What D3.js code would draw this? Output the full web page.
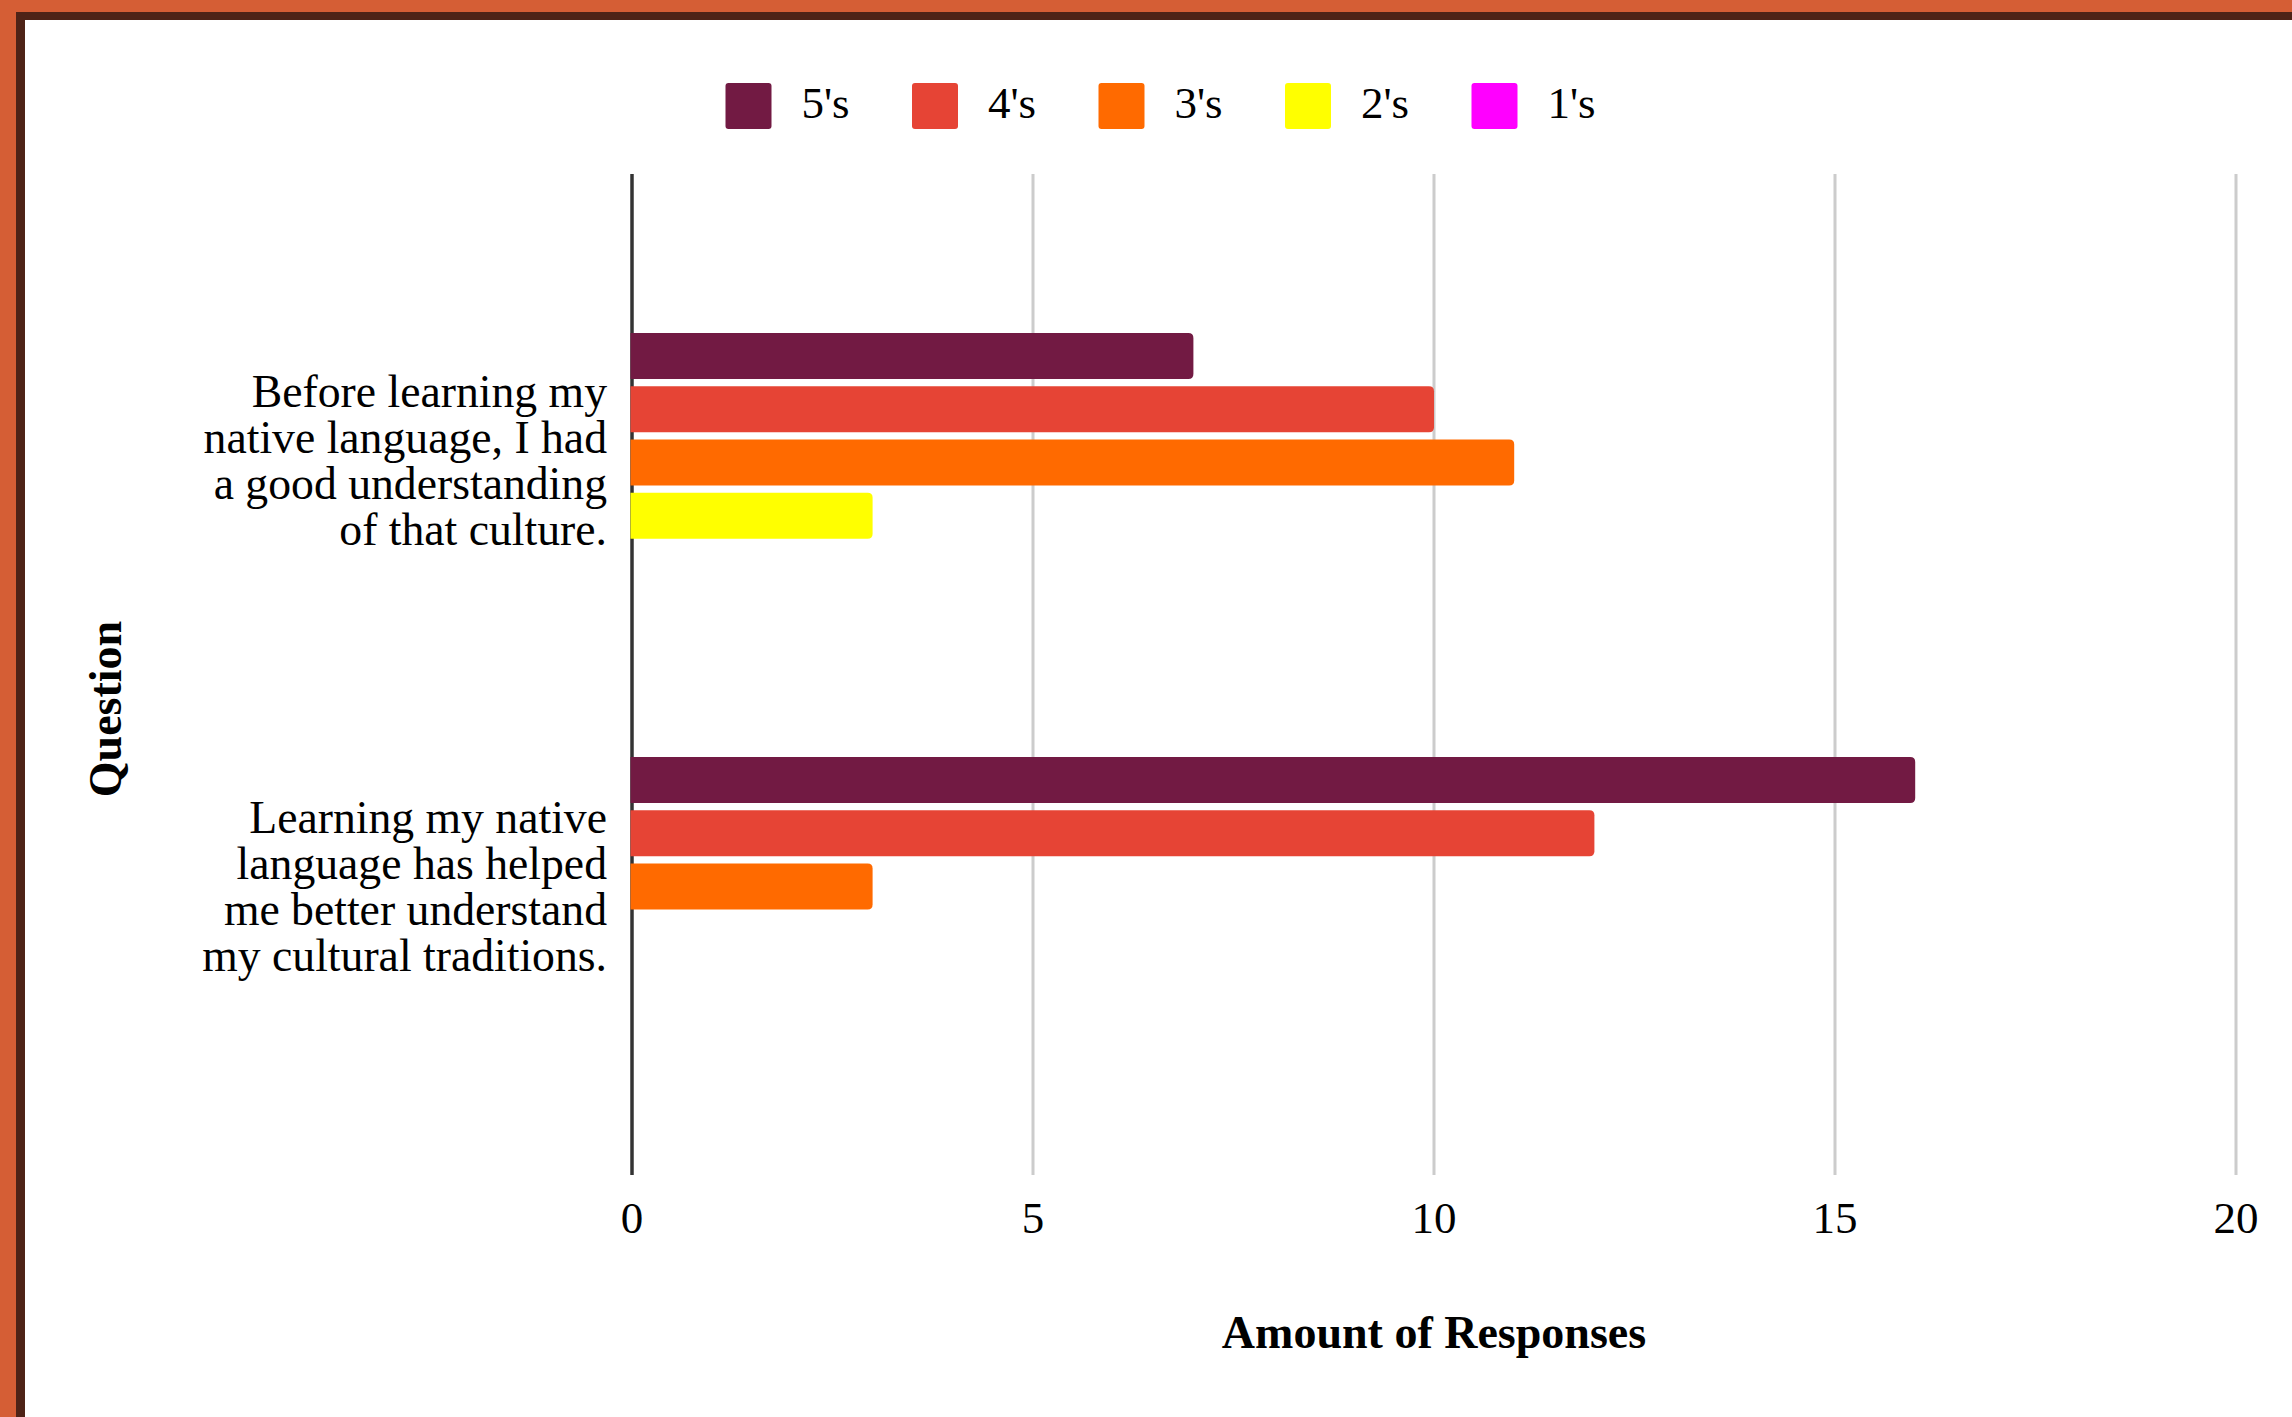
<!DOCTYPE html>
<html>
<head>
<meta charset="utf-8">
<script src="https://cdn.jsdelivr.net/npm/d3@7"></script>
<style>
  html, body { margin: 0; padding: 0; }
  body { width: 2292px; height: 1417px; background: #D55E35; overflow: hidden; position: relative; }
  #inner { position: absolute; left: 16px; top: 12px; width: 2400px; height: 1500px; background: #4E2317; }
  #chart { position: absolute; left: 25px; top: 20px; width: 2300px; height: 1420px; background: #fff; }
  svg { position: absolute; left: 0; top: 0; }
  text { font-family: "Liberation Serif", serif; fill: #000; }
</style>
</head>
<body>
<div id="inner"></div>
<div id="chart"></div>
<svg id="svg" width="2292" height="1417"></svg>
<script>
// ---- data ----
const categories = [
  "Before learning my native language, I had a good understanding of that culture.",
  "Learning my native language has helped me better understand my cultural traditions."
];
const categoryLines = [
  ["Before learning my", "native language, I had", "a good understanding", "of that culture."],
  ["Learning my native", "language has helped", "me better understand", "my cultural traditions."]
];
const seriesNames = ["5's", "4's", "3's", "2's", "1's"];
const seriesColors = ["#721A43", "#E64435", "#FF6A00", "#FFFF00", "#FF00FF"];
const values5 = [7, 16];
const values4 = [10, 12];
const values3 = [11, 3];
const values2 = [3, 0];
const values1 = [0, 0];
const xTicks = [0, 5, 10, 15, 20];
const xTitle = "Amount of Responses";
const yTitle = "Question";

const seriesValues = [values5, values4, values3, values2, values1];

// ---- layout ----
const plot = { left: 632, right: 2236, top: 174, bottom: 1175 };
const svg = d3.select("#svg");

const x = d3.scaleLinear().domain([0, 20]).range([plot.left, plot.right]);
const y0 = d3.scaleBand().domain(categories).range([plot.top, plot.bottom])
  .paddingInner(0.389).paddingOuter(0.375);
const y1 = d3.scaleBand().domain(seriesNames).range([0, y0.bandwidth()])
  .paddingInner(0.137).paddingOuter(0);
const color = d3.scaleOrdinal().domain(seriesNames).range(seriesColors);

// gridlines
svg.append("g").selectAll("line").data(xTicks.filter(t => t !== 0)).join("line")
  .attr("x1", d => x(d)).attr("x2", d => x(d))
  .attr("y1", plot.top).attr("y2", plot.bottom)
  .attr("stroke", "#cccccc").attr("stroke-width", 3);

// zero axis line
svg.append("line")
  .attr("x1", x(0)).attr("x2", x(0))
  .attr("y1", plot.top).attr("y2", plot.bottom)
  .attr("stroke", "#333333").attr("stroke-width", 3.5);

// bars
const barData = [];
categories.forEach((c, ci) => {
  seriesNames.forEach((s, si) => {
    barData.push({ cat: c, series: s, value: seriesValues[si][ci] });
  });
});

function barPath(d) {
  const x0 = x(0) - 1.5, x1 = x(d.value);
  const yTop = y0(d.cat) + y1(d.series), h = y1.bandwidth();
  const r = Math.min(5, (x1 - x0) / 2);
  return `M${x0},${yTop} H${x1 - r} Q${x1},${yTop} ${x1},${yTop + r} V${yTop + h - r} Q${x1},${yTop + h} ${x1 - r},${yTop + h} H${x0} Z`;
}

svg.append("g").selectAll("path").data(barData.filter(d => d.value > 0)).join("path")
  .attr("d", barPath)
  .attr("fill", d => color(d.series));

// x tick labels
svg.append("g").selectAll("text").data(xTicks).join("text")
  .attr("x", d => x(d)).attr("y", 1233)
  .attr("text-anchor", "middle")
  .attr("font-size", 45)
  .text(d => d);

// category labels (one text per line)
const lineH = 45.7;
categories.forEach((c, ci) => {
  const center = y0(c) + y0.bandwidth() / 2;
  const lines = categoryLines[ci];
  svg.append("g").selectAll("text").data(lines).join("text")
    .attr("text-anchor", "end")
    .attr("font-size", 45.7)
    .attr("x", 607)
    .attr("y", (l, i) => center + (i - (lines.length - 1) / 2) * lineH + 13.5 + ci * 2)
    .text(l => l);
});

// axis titles
svg.append("text")
  .attr("x", (plot.left + plot.right) / 2).attr("y", 1348)
  .attr("text-anchor", "middle").attr("font-weight", "bold").attr("font-size", 46)
  .text(xTitle);

svg.append("text")
  .attr("transform", "translate(121,709) rotate(-90)")
  .attr("text-anchor", "middle").attr("font-weight", "bold").attr("font-size", 46)
  .text(yTitle);

// legend
const legend = svg.append("g").selectAll("g").data(seriesNames).join("g")
  .attr("transform", (d, i) => `translate(${725.5 + i * 186.5},83)`);
legend.append("rect")
  .attr("width", 46).attr("height", 46).attr("rx", 3).attr("ry", 3)
  .attr("fill", d => color(d));
legend.append("text")
  .attr("x", 76).attr("y", 35)
  .attr("font-size", 45)
  .attr("fill", "#222")
  .text(d => d);
</script>
</body>
</html>
